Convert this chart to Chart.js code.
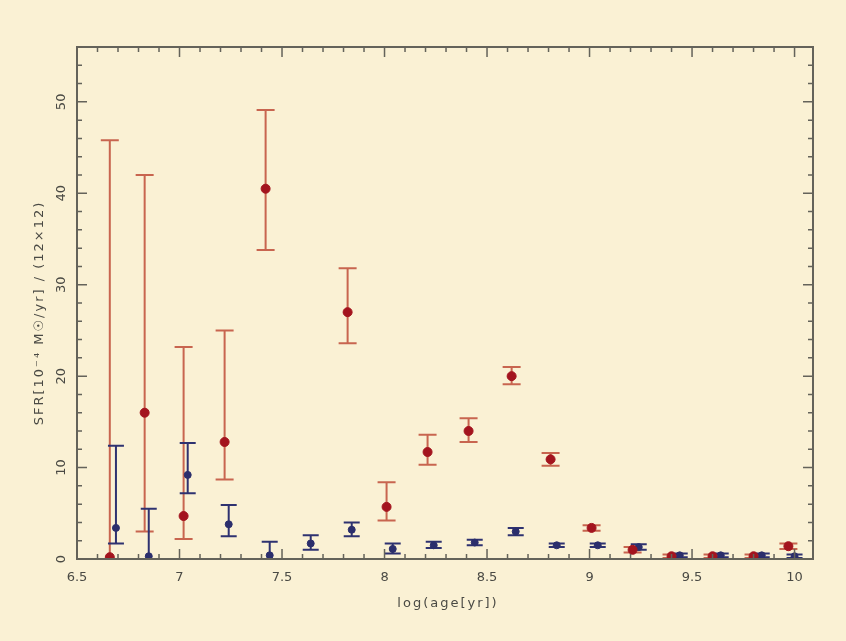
<!DOCTYPE html>
<html>
<head>
<meta charset="utf-8">
<script src="https://cdn.jsdelivr.net/npm/chart.js@4/dist/chart.umd.min.js"></script>
<style>
    body { margin: 0; background: #FAF1D4; }
    canvas { display: block; }
</style>
</head>
<body>
<canvas id="sfrChart" width="846" height="641"></canvas>
<script>
// red: SFR per age bin, with lower / upper error limits
const redAge  = [6.66, 6.83, 7.02, 7.22, 7.42, 7.82, 8.01, 8.21, 8.41, 8.62, 8.81, 9.01, 9.21, 9.40, 9.60, 9.80, 9.97];
const redSfr  = [0.2, 16.0, 4.7, 12.8, 40.5, 27.0, 5.7, 11.7, 14.0, 20.0, 10.9, 3.4, 1.0, 0.3, 0.3, 0.3, 1.4];
const redLow  = [0, 3.0, 2.2, 8.7, 33.8, 23.6, 4.2, 10.3, 12.8, 19.1, 10.2, 3.1, 0.7, 0.1, 0.1, 0.1, 1.1];
const redHigh = [45.8, 42.0, 23.2, 25.0, 49.1, 31.8, 8.4, 13.6, 15.4, 21.0, 11.6, 3.7, 1.3, 0.5, 0.5, 0.5, 1.7];

// blue: second population
const blueAge  = [6.69, 6.85, 7.04, 7.24, 7.44, 7.64, 7.84, 8.04, 8.24, 8.44, 8.64, 8.84, 9.04, 9.24, 9.44, 9.64, 9.84, 10.0];
const blueSfr  = [3.4, 0.3, 9.2, 3.8, 0.4, 1.7, 3.2, 1.1, 1.5, 1.8, 3.0, 1.5, 1.5, 1.3, 0.4, 0.4, 0.4, 0.3];
const blueLow  = [1.7, 0, 7.2, 2.5, 0, 1.0, 2.5, 0.6, 1.2, 1.5, 2.6, 1.3, 1.3, 1.0, 0.2, 0.2, 0.2, 0.1];
const blueHigh = [12.4, 5.5, 12.7, 5.9, 1.9, 2.6, 4.0, 1.7, 1.9, 2.1, 3.4, 1.7, 1.7, 1.6, 0.6, 0.6, 0.6, 0.5];

// axis ticks
const xTicks = [6.5, 7, 7.5, 8, 8.5, 9, 9.5, 10];
const xTickLabels = ['6.5', '7', '7.5', '8', '8.5', '9', '9.5', '10'];
const yTicks = [0, 10, 20, 30, 40, 50];
const yTickLabels = ['0', '10', '20', '30', '40', '50'];

const RED_BAR = '#C8654F';
const BLUE_BAR = '#2E3270';
const AXIS = '#64635A';
const TEXT = '#4A4A44';

const toPoints = (xs, ys) => xs.map((x, i) => ({ x: x, y: ys[i] }));

// error bars drawn under the points
const errorBars = {
    id: 'errorBars',
    beforeDatasetsDraw(chart) {
        const ctx = chart.ctx;
        const xs = chart.scales.x, ys = chart.scales.y;
        const sets = [
            { age: redAge, low: redLow, high: redHigh, color: RED_BAR, cap: 9 },
            { age: blueAge, low: blueLow, high: blueHigh, color: BLUE_BAR, cap: 8 }
        ];
        ctx.save();
        sets.forEach(s => {
            ctx.strokeStyle = s.color;
            ctx.lineWidth = 2;
            s.age.forEach((a, i) => {
                const px = xs.getPixelForValue(a);
                const y0 = ys.getPixelForValue(s.low[i]);
                const y1 = ys.getPixelForValue(s.high[i]);
                ctx.beginPath();
                ctx.moveTo(px, y0); ctx.lineTo(px, y1);
                ctx.moveTo(px - s.cap, y0); ctx.lineTo(px + s.cap, y0);
                ctx.moveTo(px - s.cap, y1); ctx.lineTo(px + s.cap, y1);
                ctx.stroke();
            });
        });
        ctx.restore();
    }
};

// box frame with inward ticks on all four sides, rotated y labels
const frame = {
    id: 'frame',
    afterDraw(chart) {
        const ctx = chart.ctx;
        const a = chart.chartArea;
        const xs = chart.scales.x, ys = chart.scales.y;
        ctx.save();
        ctx.strokeStyle = AXIS;
        ctx.lineWidth = 2;
        ctx.strokeRect(a.left, a.top, a.right - a.left, a.bottom - a.top);

        ctx.lineWidth = 1.5;
        ctx.beginPath();
        for (let v = 6.5; v <= 10.05; v += 0.1) {
            const px = xs.getPixelForValue(v);
            const major = Math.abs(v * 2 - Math.round(v * 2)) < 0.01;
            const len = major ? 10 : 5;
            ctx.moveTo(px, a.bottom); ctx.lineTo(px, a.bottom - len);
            ctx.moveTo(px, a.top); ctx.lineTo(px, a.top + len);
        }
        for (let v = 0; v <= 56; v += 2) {
            const py = ys.getPixelForValue(v);
            const len = v % 10 === 0 ? 10 : 5;
            ctx.moveTo(a.left, py); ctx.lineTo(a.left + len, py);
            ctx.moveTo(a.right, py); ctx.lineTo(a.right - len, py);
        }
        ctx.stroke();

        ctx.fillStyle = TEXT;
        ctx.font = '13px "DejaVu Sans"';
        ctx.textAlign = 'center';
        ctx.textBaseline = 'top';
        xTicks.forEach((v, i) => {
            ctx.fillText(xTickLabels[i], xs.getPixelForValue(v), a.bottom + 12);
        });
        yTicks.forEach((v, i) => {
            ctx.save();
            ctx.translate(a.left - 15, ys.getPixelForValue(v));
            ctx.rotate(-Math.PI / 2);
            ctx.textBaseline = 'middle';
            ctx.fillText(yTickLabels[i], 0, 0);
            ctx.restore();
        });

        ctx.font = '13px "DejaVu Sans"';
        ctx.letterSpacing = '2px';
        ctx.fillText('log(age[yr])', (a.left + a.right) / 2 + 3, a.bottom + 38);
        ctx.save();
        ctx.translate(a.left - 37, (a.top + a.bottom) / 2 + 10);
        ctx.rotate(-Math.PI / 2);
        ctx.textBaseline = 'middle';
        ctx.fillText('SFR[10\u207B\u2074 M\u2609/yr] / (12\u00D712)', 0, 0);
        ctx.restore();
        ctx.restore();
    }
};

new Chart(document.getElementById('sfrChart'), {
    type: 'scatter',
    data: {
        datasets: [{
            label: 'red',
            data: toPoints(redAge, redSfr),
            backgroundColor: '#A3141E',
            borderColor: '#A3141E',
            pointRadius: 4.5
        }, {
            label: 'blue',
            data: toPoints(blueAge, blueSfr),
            backgroundColor: '#2B2E6C',
            borderColor: '#2B2E6C',
            pointRadius: 3.5
        }]
    },
    options: {
        responsive: false,
        animation: false,
        layout: { padding: { left: 77, right: 33, top: 47, bottom: 82 } },
        plugins: {
            legend: { display: false },
            tooltip: { enabled: false }
        },
        scales: {
            x: { type: 'linear', min: 6.5, max: 10.09, display: false },
            y: { type: 'linear', min: 0, max: 56, display: false }
        }
    },
    plugins: [errorBars, frame]
});
</script>
</body>
</html>
